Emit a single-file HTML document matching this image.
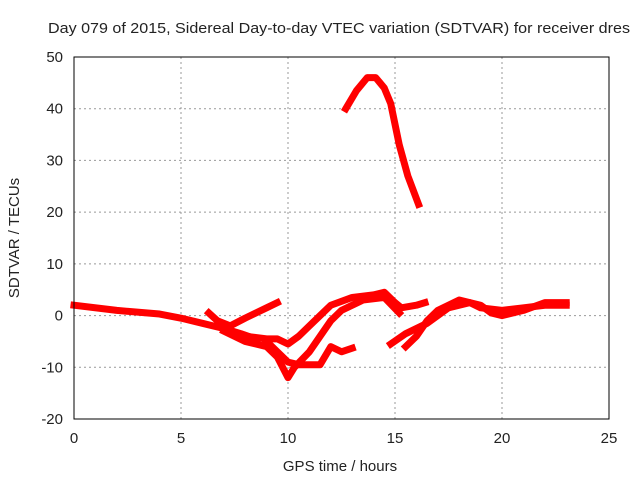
<!DOCTYPE html>
<html><head><meta charset="utf-8"><style>
body{margin:0;background:#fff}
svg text{font-family:"Liberation Sans",sans-serif;font-size:15px;fill:#222}
</style></head><body>
<svg id="c" width="640" height="480" xmlns="http://www.w3.org/2000/svg">
<text x="48" y="33" textLength="582" lengthAdjust="spacingAndGlyphs" font-size="16">Day 079 of 2015, Sidereal Day-to-day VTEC variation (SDTVAR) for receiver dres</text>
<text x="340" y="471" text-anchor="middle" font-size="16">GPS time / hours</text>
<text transform="translate(19,238) rotate(-90)" text-anchor="middle" font-size="16">SDTVAR / TECUs</text>
<g id="grid"></g><g id="ticks"></g><g id="series"></g>
<rect x="74" y="57" width="535" height="362" fill="none" stroke="#000" stroke-width="1"/>
</svg>
<script>
const xTicks=[0,5,10,15,20,25];
const yTicks=[-20,-10,0,10,20,30,40,50];
const arcA=[[0,2],[2,1],[4,0.3],[5,-0.5],[6,-1.5],[7,-2.5],[7.8,-3.5],[8.5,-4.5]];
const arcB=[[6.3,0.5],[6.7,-1],[7.3,-2],[8,-0.5],[9,1.5],[9.5,2.5]];
const arcC=[[7,-2.5],[8,-4],[9,-4.5],[9.5,-4.5],[10,-5.5],[10.5,-4],[11,-2],[11.5,0],[12,2],[13,3.5],[14,4],[14.5,4.5],[15,2.5],[15.3,1.5],[16,2],[16.4,2.5]];
const arcD=[[7,-3],[8,-5],[9,-6],[9.5,-8],[10,-12],[10.3,-10],[11,-7],[11.5,-4],[12,-1],[12.5,1],[13.5,3],[14.5,3.5],[15.2,0.5]];
const arcE=[[9,-5],[10,-9],[10.5,-9.5],[11.5,-9.5],[12,-6],[12.5,-7],[13,-6.3]];
const arcF=[[14.8,-5.5],[15.5,-3.5],[16.5,-1.5],[17,0],[17.5,1.5],[18.5,2.5],[19,1.5],[20,1],[21,1.5],[22,2],[23,2]];
const arcG=[[15.5,-6],[16,-4],[16.5,-1],[17,1],[18,3],[19,2],[19.5,0.5],[20,0],[21,1],[22,2.5],[23,2.5]];
const arcPeak=[[12.7,40],[13.2,43.5],[13.7,46],[14.1,46],[14.5,44],[14.8,41],[15.2,33],[15.6,27],[16.1,21.5]];
const series=[arcA,arcB,arcC,arcD,arcE,arcF,arcG,arcPeak];
const X=h=>74+h*535/25, Y=v=>57+(50-v)*362/70;
const NS="http://www.w3.org/2000/svg";
function mk(t,a,p){const e=document.createElementNS(NS,t);for(const k in a)e.setAttribute(k,a[k]);p.appendChild(e);return e;}
const g=document.getElementById('grid'),tk=document.getElementById('ticks'),s=document.getElementById('series');
xTicks.forEach(t=>{
 if(t>0&&t<25){const l=mk('line',{x1:X(t),x2:X(t),y1:57,y2:419,stroke:'#999','stroke-dasharray':'2,3'},g);
 }
 const tx=mk('text',{x:X(t),y:443,'text-anchor':'middle'},tk);tx.textContent=t;
 
});
yTicks.forEach(t=>{
 if(t>-20&&t<50){const l=mk('line',{x1:74,x2:609,y1:Y(t),y2:Y(t),stroke:'#999','stroke-dasharray':'2,3'},g);
 }
 const tx=mk('text',{x:63,y:Y(t)+5,'text-anchor':'end'},tk);tx.textContent=t;
 
});
series.forEach(arr=>{
 const p=mk('polyline',{points:arr.map(d=>X(d[0])+','+Y(d[1])).join(' '),fill:'none',stroke:'#f00','stroke-width':7,'stroke-linejoin':'round','stroke-linecap':'square'},s);
 
});
</script>
</body></html>
